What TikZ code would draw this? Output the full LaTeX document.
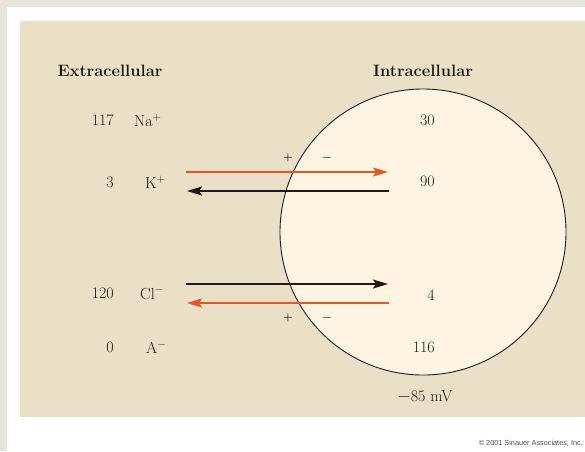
\documentclass[tikz,border=0pt]{standalone}
\usepackage{fontspec}
\newfontfamily\copyfont{Liberation Sans}
\usetikzlibrary{arrows.meta,positioning}
\definecolor{outerbg}{RGB}{229,230,217}
\definecolor{panel}{RGB}{233,224,199}
\definecolor{cellfill}{RGB}{253,245,226}
\definecolor{flux}{RGB}{232,86,40}
\definecolor{ink}{RGB}{30,27,24}

\begin{document}
\begin{tikzpicture}[x=1pt,y=-1pt,>={Stealth[length=15pt,width=9pt,inset=3pt]},
  head/.style={font=\fontsize{16.5}{19}\selectfont\bfseries,text=ink,inner sep=0pt},
  conc/.style={font=\fontsize{16}{18}\selectfont,text=ink,inner sep=0pt},
  sign/.style={font=\fontsize{11}{13}\selectfont\boldmath,text=ink,inner sep=0pt},
  flow/.style={->,line width=2pt}]
\useasboundingbox (0,0) rectangle (585,451);
\clip (0,0) rectangle (585,451);
\fill[outerbg] (0,0) rectangle (585,451);
\fill[white] (7,7) rectangle (585,451);
\fill[panel] (20,21) rectangle (585,417);

% cell
\node[circle,draw=ink,line width=0.9pt,fill=cellfill,minimum size=286pt,inner sep=0pt] (cell) at (423,232) {};

% headings
\node[head] (extra) at (110,71) {Extracellular};
\node[head] (intra) at (423,71) {Intracellular};

% outside concentrations
\node[conc,anchor=east] (naout) at (114,120) {117};
\node[conc,anchor=west] (na) at (134,120) {Na$^+$};
\node[conc,anchor=east] (kout) at (114,182) {3};
\node[conc,anchor=west] (k) at (145,182) {K$^+$};
\node[conc,anchor=east] (clout) at (114,293) {120};
\node[conc,anchor=west] (cl) at (140,293) {Cl$^-$};
\node[conc,anchor=east] (aout) at (114,347) {0};
\node[conc,anchor=west] (a) at (146,347) {A$^-$};

% inside concentrations
\node[conc,anchor=east] (nain) at (435,120) {30};
\node[conc,anchor=east] (kin) at (435,181) {90};
\node[conc,anchor=east] (clin) at (435,295) {4};
\node[conc,anchor=east] (ain) at (435,347) {116};
\node[conc] (vm) at (425,397) {$-$85 mV};

% membrane charge
\node[sign] (plusa) at (288,158) {$+$};
\node[sign] (minusa) at (327,158) {$-$};
\node[sign] (plusb) at (288,318) {$+$};
\node[sign] (minusb) at (327,318) {$-$};

% fluxes
\coordinate (kl1) at (186,172);
\coordinate (kr1) at (388,172);
\coordinate (kl2) at (187,191);
\coordinate (kr2) at (389,191);
\coordinate (cll1) at (186,284);
\coordinate (clr1) at (388,284);
\coordinate (cll2) at (187,303);
\coordinate (clr2) at (389,303);
\draw[flow,flux] (kl1) -- (kr1);
\draw[flow,ink] (kr2) -- (kl2);
\draw[flow,ink] (cll1) -- (clr1);
\draw[flow,flux] (clr2) -- (cll2);

\node[font=\copyfont\fontsize{7.3}{9}\selectfont,text=black!70,anchor=east,inner sep=0pt] (copy) at (583,443) {\textcopyright{} 2001 Sinauer Associates, Inc.};
\end{tikzpicture}
\end{document}
